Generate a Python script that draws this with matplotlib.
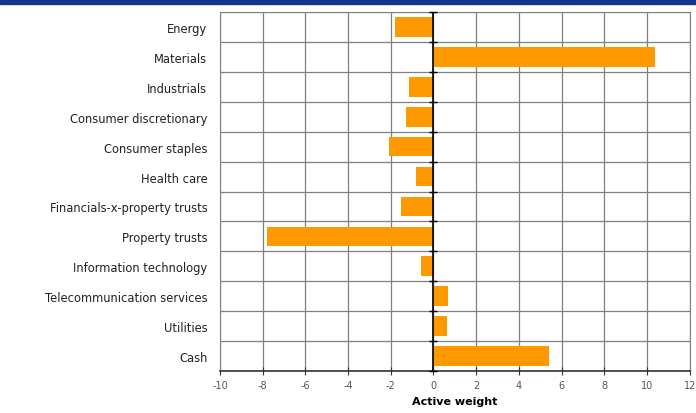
import numpy as np
import matplotlib.pyplot as plt
from matplotlib.patches import Rectangle

sectors = ["Energy", "Materials", "Industrials", "Consumer discretionary",
           "Consumer staples", "Health care", "Financials-x-property trusts",
           "Property trusts", "Information technology",
           "Telecommunication services", "Utilities", "Cash"]
active_weight = [-1.8, 10.35, -1.15, -1.3, -2.1, -0.8, -1.5, -7.8, -0.6, 0.7, 0.65, 5.4]
x_ticks = list(range(-10, 13, 2))

fig = plt.figure(figsize=(6.96, 4.14), dpi=100)
fig.patches.append(Rectangle((0, 0.988), 1, 0.012, transform=fig.transFigure,
                             color="#12368f", zorder=0))
ax = fig.add_axes([0.316, 0.101, 0.675, 0.868])

y = np.arange(len(sectors))
ax.barh(y, active_weight, height=0.66, color="#ff9900", zorder=3)

ax.set_xlim(-10, 12)
ax.set_ylim(len(sectors) - 0.5, -0.5)

# grid: vertical lines at ticks, horizontal lines between categories
ax.set_xticks(x_ticks)
ax.set_xticklabels([str(t) for t in x_ticks], color="#555555", fontsize=7)
ax.set_yticks(y)
ax.set_yticklabels(sectors, fontsize=8.3, color="#222222")
ax.tick_params(axis="y", length=0, pad=9)
ax.tick_params(axis="x", direction="inout", length=6, color="#333333")
ax.set_yticks(np.arange(len(sectors) + 1) - 0.5, minor=True)
ax.tick_params(axis="y", which="minor", length=0)
ax.grid(axis="x", color="#808080", linewidth=0.9, zorder=1)
ax.grid(axis="y", which="minor", color="#808080", linewidth=0.9, zorder=1)
ax.grid(axis="y", which="major", visible=False)

for s in ["top", "right", "left"]:
    ax.spines[s].set_color("#808080")
ax.spines["bottom"].set_color("#333333")
ax.spines["bottom"].set_linewidth(1.2)

# zero axis with small tick marks at the category boundaries
ax.axvline(0, color="black", linewidth=1.2, zorder=4)
bounds = np.arange(len(sectors) + 1) - 0.5
ax.plot(np.zeros(len(bounds)), bounds, linestyle="none", marker="_",
        markersize=6, color="black", zorder=4, clip_on=False)

ax.set_xlabel("Active weight", fontsize=8, fontweight="bold", labelpad=4)

fig.savefig("out.png", dpi=100)
